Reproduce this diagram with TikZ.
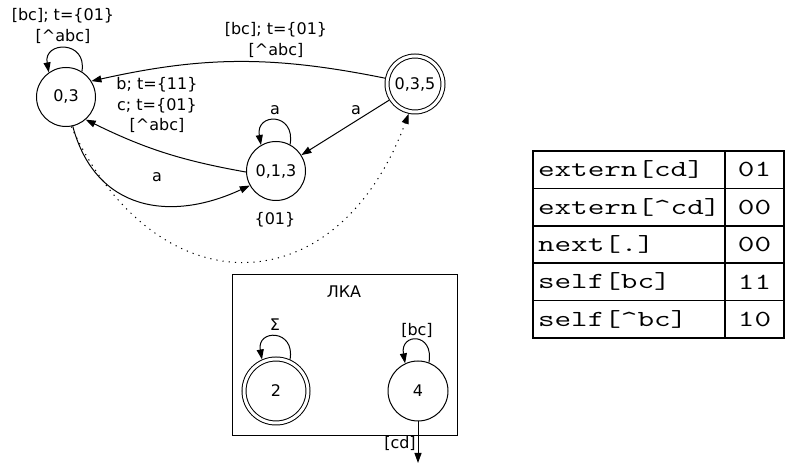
\documentclass[tikz,border=0pt]{standalone}
\usepackage{fontspec}
\usepackage{graphicx}
\setmainfont{DejaVu Sans}
\usetikzlibrary{arrows.meta}

\begin{document}
\begin{tikzpicture}[x=1pt,y=1pt,
  every node/.style={font=\fontsize{16}{20.5}\selectfont},
  st/.style={circle,draw,line width=1pt,minimum size=59pt,inner sep=0pt},
  acc/.style={st,double,double distance=3pt,minimum size=56pt,outer sep=2.5pt},
  tr/.style={line width=1pt,-{Triangle[length=10pt,width=7pt]}},
  cell/.style={draw,line width=1.6pt,minimum height=37.4pt,inner sep=0pt,
    font=\ttfamily\fontsize{23}{23}\selectfont}]
\useasboundingbox (0,0) rectangle (785,465);
\path node (n03) at (66,368) [st] {0,3}
node (n013) at (276,294) [st] {0,1,3}
node (n035) at (415,381) [acc] {0,3,5};
\draw[tr] (n03.58) .. controls +(80:32) and +(100:32) .. (n03.125);
\draw[tr] (n013.62) .. controls +(80:33) and +(100:33) .. (n013.120);
\draw[tr] (n035.169) to[bend right=12] (n03.32);
\draw[tr] (n013.182) to[bend left=8] (n03.-49);
\draw[tr] (n03.-77) to[out=-75,in=205,looseness=1.2] (n013.209);
\draw[tr] (n035) -- (n013);
\draw[tr,dash pattern=on 1.2pt off 5pt] (n03.-80) .. controls (155,157) and (336,156) .. (n035.258);
\path node (l03) at (63,439) [align=center] {[bc]; t=\{01\}\\{}[\textasciicircum abc]}
node (l350) at (276,425) [align=center] {[bc]; t=\{01\}\\{}[\textasciicircum abc]}
node (l130) at (157,360) [align=center] {b; t=\{11\}\\c; t=\{01\}\\{}[\textasciicircum abc]}
node (l0113) at (157,288) {a}
node (l1313) at (275,355) {a}
node (l35013) at (356,355) {a}
node (x13) at (275,245) {\{01\}};
% LKA
\draw[line width=1pt] (232,29) rectangle (457,190);
\path node (lka) at (344,173) {ЛКА}
node (n2) at (276,74) [acc,minimum size=64pt] {2}
node (n4) at (418,74) [st,minimum size=60pt] {4}
node (l2) at (275,140) {Σ}
node (l4) at (417,135) {[bc]}
node (lcd) at (400,22) {[cd]};
\coordinate (out) at (418,2);
\draw[tr] (n2.66) .. controls +(80:31) and +(100:31) .. (n2.114);
\draw[tr] (n4.69) .. controls +(80:31) and +(100:31) .. (n4.115);
\draw[tr] (n4) -- (out);
% table
\foreach \k/\v [count=\i] in {extern[cd]/01,extern[\textasciicircum cd]/00,next[.]/00,self[bc]/11,self[\textasciicircum bc]/10}{
  \node (k\i) at (629,332.7-37.4*\i) [cell,minimum width=192pt,text width=182pt,align=left] {\scalebox{1.4}[1]{\k}};
  \node (v\i) at (754.5,332.7-37.4*\i) [cell,minimum width=59pt] {\scalebox{1.4}[1]{\v}};
}
\end{tikzpicture}
\end{document}
